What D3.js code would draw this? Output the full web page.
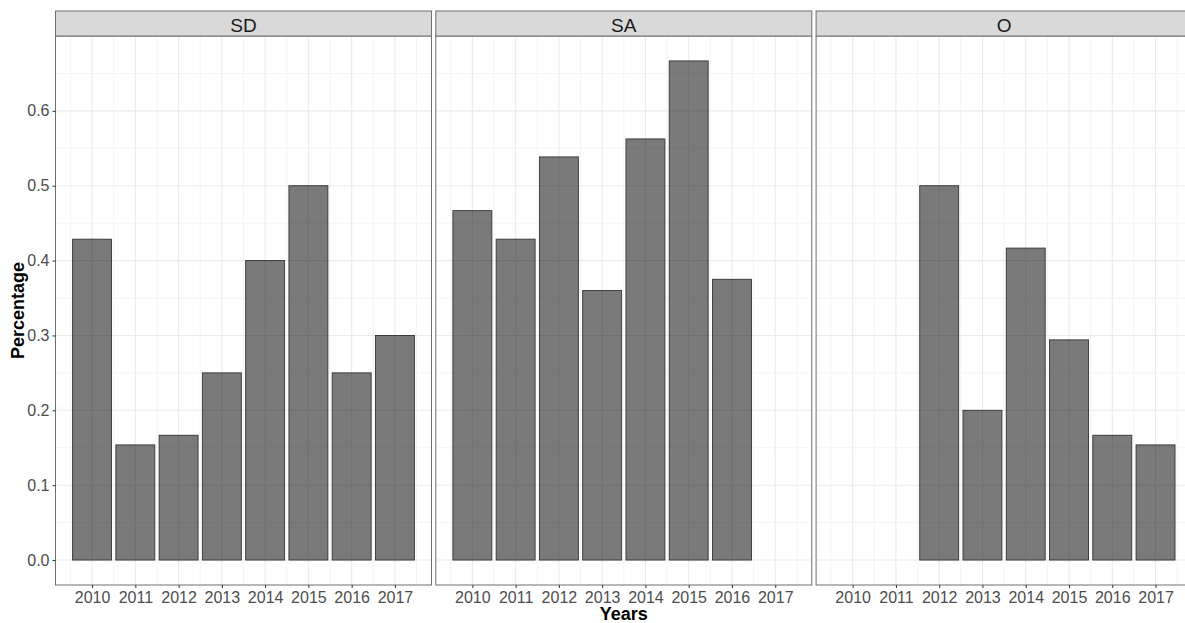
<!DOCTYPE html>
<html>
<head>
<meta charset="utf-8">
<script src="https://cdn.jsdelivr.net/npm/d3@7"></script>
<style>
  html, body { margin: 0; padding: 0; background: #fff; }
  svg { display: block; font-family: "Liberation Sans", Arial, sans-serif; }
</style>
</head>
<body>
<div id="chart"></div>
<script>
const years = [2010, 2011, 2012, 2013, 2014, 2015, 2016, 2017];
const panelNames = ["SD", "SA", "O"];
const sdValues = [0.4286, 0.1538, 0.1667, 0.25, 0.4, 0.5, 0.25, 0.3];
const saValues = [0.4667, 0.4286, 0.5385, 0.36, 0.5625, 0.6667, 0.375, null];
const oValues  = [null, null, 0.5, 0.2, 0.4167, 0.2941, 0.1667, 0.1538];
const yTicks = [0.0, 0.1, 0.2, 0.3, 0.4, 0.5, 0.6];
const yTickLabels = ["0.0", "0.1", "0.2", "0.3", "0.4", "0.5", "0.6"];
const xTitle = "Years";
const yTitle = "Percentage";

const seriesByPanel = [sdValues, saValues, oValues];

const W = 1185, H = 623;
const svg = d3.select("#chart").append("svg").attr("width", W).attr("height", H);

const panelLefts = [55.5, 435.8, 816.1];
const panelW = 376;
const stripTop = 11, panelTop = 36, panelBottom = 585;
const panelH = panelBottom - panelTop;

const x = d3.scaleLinear().domain([2009.155, 2017.845]).range([0, panelW]);
const y = d3.scaleLinear().domain([-0.03333, 0.7]).range([panelH, 0]);
const barW = 0.9;

const majorX = years;
const minorX = d3.range(2009.5, 2018, 1);
const minorY = [0.05, 0.15, 0.25, 0.35, 0.45, 0.55, 0.65];

panelNames.forEach((name, pi) => {
  const g = svg.append("g").attr("transform", `translate(${panelLefts[pi]},${panelTop})`);
  g.append("rect").attr("width", panelW).attr("height", panelH).attr("fill", "#fff");
  g.selectAll(".mgx").data(minorX).join("line")
    .attr("x1", d => x(d)).attr("x2", d => x(d)).attr("y1", 0).attr("y2", panelH)
    .attr("stroke", "#f4f4f4").attr("stroke-width", 1);
  g.selectAll(".mgy").data(minorY).join("line")
    .attr("y1", d => y(d)).attr("y2", d => y(d)).attr("x1", 0).attr("x2", panelW)
    .attr("stroke", "#f4f4f4").attr("stroke-width", 1);
  g.selectAll(".Mgx").data(majorX).join("line")
    .attr("x1", d => x(d)).attr("x2", d => x(d)).attr("y1", 0).attr("y2", panelH)
    .attr("stroke", "#ebebeb").attr("stroke-width", 1.1);
  g.selectAll(".Mgy").data(yTicks).join("line")
    .attr("y1", d => y(d)).attr("y2", d => y(d)).attr("x1", 0).attr("x2", panelW)
    .attr("stroke", "#ebebeb").attr("stroke-width", 1.1);
  const vals = seriesByPanel[pi];
  const data = years.map((yr, i) => ({ yr, v: vals[i] })).filter(d => d.v != null);
  g.selectAll(".bar").data(data).join("rect")
    .attr("x", d => x(d.yr - barW / 2))
    .attr("width", d => x(d.yr + barW / 2) - x(d.yr - barW / 2))
    .attr("y", d => y(d.v))
    .attr("height", d => y(0) - y(d.v))
    .attr("fill", "#000").attr("fill-opacity", 0.52)
    .attr("stroke", "#333").attr("stroke-width", 0.9);
  g.append("rect").attr("width", panelW).attr("height", panelH)
    .attr("fill", "none").attr("stroke", "#6e6e6e").attr("stroke-width", 1);
  const s = svg.append("g").attr("transform", `translate(${panelLefts[pi]},${stripTop})`);
  s.append("rect").attr("width", panelW).attr("height", panelTop - stripTop)
    .attr("fill", "#d9d9d9").attr("stroke", "#6e6e6e").attr("stroke-width", 1);
  s.append("text").attr("x", panelW / 2).attr("y", 20.7)
    .attr("text-anchor", "middle").attr("font-size", 19).attr("fill", "#1a1a1a").text(name);
  const xa = svg.append("g").attr("transform", `translate(${panelLefts[pi]},${panelBottom})`)
    .call(d3.axisBottom(x).tickValues(years).tickFormat(d3.format("d")).tickSize(3).tickPadding(4));
  xa.select(".domain").remove();
  xa.selectAll(".tick line").attr("stroke", "#333");
  xa.selectAll(".tick text").attr("font-size", 16).attr("fill", "#4d4d4d")
    .attr("font-family", "'Liberation Sans', Arial, sans-serif");
});

const ya = svg.append("g").attr("transform", `translate(${panelLefts[0]},${panelTop})`)
  .call(d3.axisLeft(y).tickValues(yTicks).tickFormat((d, i) => yTickLabels[i]).tickSize(3).tickPadding(3));
ya.select(".domain").remove();
ya.selectAll(".tick line").attr("stroke", "#333");
ya.selectAll(".tick text").attr("font-size", 16).attr("fill", "#4d4d4d")
  .attr("font-family", "'Liberation Sans', Arial, sans-serif");

const plotCenterX = (panelLefts[0] + panelLefts[2] + panelW) / 2;
svg.append("text").attr("x", plotCenterX).attr("y", 620)
  .attr("text-anchor", "middle").attr("font-size", 18).attr("font-weight", "bold").attr("fill", "#000")
  .text(xTitle);
svg.append("text").attr("transform", `translate(23.5,${(panelTop + panelBottom) / 2}) rotate(-90)`)
  .attr("text-anchor", "middle").attr("font-size", 18).attr("font-weight", "bold").attr("fill", "#000")
  .text(yTitle);
</script>
</body>
</html>
